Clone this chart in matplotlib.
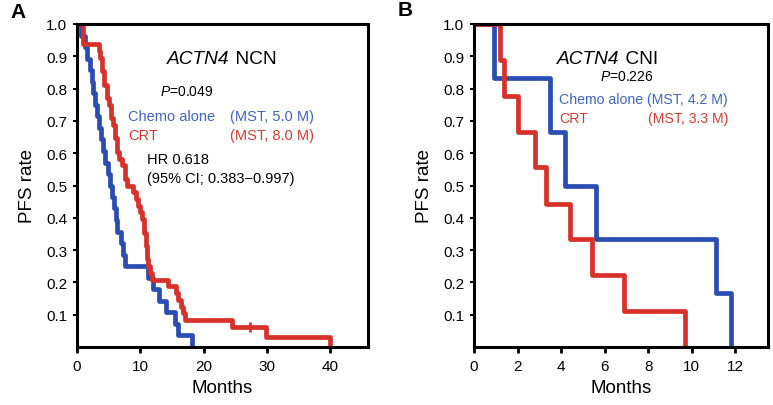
import matplotlib
matplotlib.use('Agg')
import matplotlib.pyplot as plt

plt.rcParams['font.family'] = ['Liberation Sans', 'DejaVu Sans']
plt.rcParams['mathtext.fontset'] = 'custom'
plt.rcParams['mathtext.rm'] = 'Liberation Sans'
plt.rcParams['mathtext.it'] = 'Liberation Sans:italic'

# Panel A: ACTN4 NCN, Kaplan-Meier steps (months, PFS rate)
a_chemo_t = [0, 0.6, 1.2, 1.6, 2.0, 2.3, 2.6, 2.9, 3.2, 3.5, 3.8, 4.1, 4.5, 4.9, 5.2,
             5.5, 5.8, 6.1, 6.4, 6.9, 7.2, 7.6, 11.3, 12.0, 13.0, 14.0, 15.5, 16.0, 18.1]
a_chemo_s = [1.0, 0.964, 0.929, 0.893, 0.857, 0.821, 0.786, 0.75, 0.714, 0.679, 0.643,
             0.607, 0.571, 0.536, 0.5, 0.464, 0.429, 0.393, 0.357, 0.321, 0.286, 0.25,
             0.214, 0.179, 0.143, 0.107, 0.071, 0.036, 0.0]
a_crt_t = [0, 1.0, 3.4, 3.7, 4.0, 4.3, 4.7, 5.0, 5.4, 5.7, 6.0, 6.3, 6.7, 7.1, 7.6, 7.9,
           8.9, 9.3, 9.7, 10.0, 10.3, 10.6, 10.9, 11.1, 11.3, 11.5, 11.8, 14.4, 15.6,
           16.0, 16.4, 16.8, 17.1, 24.5, 29.8, 40.0]
a_crt_s = [1.0, 0.938, 0.917, 0.896, 0.854, 0.812, 0.771, 0.75, 0.708, 0.688, 0.646,
           0.604, 0.583, 0.562, 0.521, 0.5, 0.479, 0.458, 0.438, 0.417, 0.396, 0.354,
           0.312, 0.271, 0.25, 0.229, 0.208, 0.188, 0.167, 0.146, 0.125, 0.104, 0.083,
           0.0625, 0.03, 0.0]
a_crt_censor_t = [27.3]
a_crt_censor_s = [0.0625]

# Panel B: ACTN4 CNI
b_chemo_t = [0, 0.9, 3.5, 4.2, 5.6, 11.1, 11.8]
b_chemo_s = [1.0, 0.833, 0.667, 0.5, 0.333, 0.167, 0.0]
b_crt_t = [0, 1.2, 1.4, 2.0, 2.8, 3.3, 4.4, 5.4, 6.9, 9.7]
b_crt_s = [1.0, 0.889, 0.778, 0.667, 0.556, 0.444, 0.333, 0.222, 0.111, 0.0]

y_ticks = [0.1, 0.2, 0.3, 0.4, 0.5, 0.6, 0.7, 0.8, 0.9, 1.0]
a_xticks = [0, 10, 20, 30, 40]
b_xticks = [0, 2, 4, 6, 8, 10, 12]

BLUE = '#2a4db4'
RED = '#d8312a'
BLUE_TXT = '#3f66c4'
RED_TXT = '#d63b31'

fig = plt.figure(figsize=(7.73, 4.06), dpi=100)
W, H = 773, 406


def make_axes(left, right, top=25, bottom=348):
    return fig.add_axes([left / W, 1 - bottom / H, (right - left) / W, (bottom - top) / H])


def style(ax, xticks, xmax):
    ax.set_xlim(0, xmax)
    ax.set_ylim(0, 1.0)
    ax.set_xticks(xticks)
    ax.set_yticks(y_ticks)
    ax.set_yticklabels(['%.1f' % v for v in y_ticks])
    for sp in ax.spines.values():
        sp.set_linewidth(2.2)
    ax.tick_params(axis='y', direction='out', length=3, width=1.5, labelsize=11, pad=4)
    ax.tick_params(axis='x', direction='out', length=4, width=2, labelsize=11, pad=5)
    ax.set_xlabel('Months', fontsize=13.5, labelpad=4)
    ax.set_ylabel('PFS rate', fontsize=13.5, labelpad=7)


def gene_title(ax, x, y, gene, rest):
    # italic gene name followed by upright suffix
    t = ax.text(x, y, gene, transform=ax.transAxes, ha='left', va='baseline',
                fontsize=13.8, style='italic')
    ax.annotate(' ' + rest, xy=(1, 0), xycoords=t, ha='left', va='bottom',
                fontsize=13.8)


# --- Panel A ---
ax1 = make_axes(77, 368)
ax1.step(a_chemo_t, a_chemo_s, where='post', color=BLUE, lw=3.4)
ax1.step(a_crt_t, a_crt_s, where='post', color=RED, lw=3.4)
ax1.plot(a_crt_censor_t, a_crt_censor_s, ls='none', marker='|', color=RED,
         markersize=7, markeredgewidth=2)
style(ax1, a_xticks, 46)

tA = ax1.transAxes
gene_title(ax1, 0.31, 0.878, 'ACTN4', 'NCN')
ax1.text(0.285, 0.792, r'$\mathit{P}$=0.049', transform=tA, ha='left', va='center', fontsize=10)
ax1.text(0.175, 0.715, 'Chemo alone', transform=tA, ha='left', va='center', fontsize=10.5, color=BLUE_TXT)
ax1.text(0.525, 0.715, '(MST, 5.0 M)', transform=tA, ha='left', va='center', fontsize=10.5, color=BLUE_TXT)
ax1.text(0.175, 0.656, 'CRT', transform=tA, ha='left', va='center', fontsize=10.5, color=RED_TXT)
ax1.text(0.525, 0.656, '(MST, 8.0 M)', transform=tA, ha='left', va='center', fontsize=10.5, color=RED_TXT)
ax1.text(0.24, 0.582, 'HR 0.618', transform=tA, ha='left', va='center', fontsize=10.5)
ax1.text(0.24, 0.523, '(95% CI; 0.383\u22120.997)', transform=tA, ha='left', va='center', fontsize=10.5)

# --- Panel B ---
ax2 = make_axes(474, 768)
ax2.step(b_chemo_t, b_chemo_s, where='post', color=BLUE, lw=3.4)
ax2.step(b_crt_t, b_crt_s, where='post', color=RED, lw=3.4)
style(ax2, b_xticks, 13.5)

tB = ax2.transAxes
gene_title(ax2, 0.283, 0.878, 'ACTN4', 'CNI')
ax2.text(0.52, 0.84, r'$\mathit{P}$=0.226', transform=tB, ha='center', va='center', fontsize=10)
ax2.text(0.29, 0.767, 'Chemo alone (MST, 4.2 M)', transform=tB, ha='left', va='center', fontsize=10.2, color=BLUE_TXT)
ax2.text(0.29, 0.71, 'CRT', transform=tB, ha='left', va='center', fontsize=10.2, color=RED_TXT)
ax2.text(0.865, 0.71, '(MST, 3.3 M)', transform=tB, ha='right', va='center', fontsize=10.2, color=RED_TXT)

fig.text(10 / W, 1 - 12 / H, 'A', fontsize=15, fontweight='bold', ha='left', va='center')
fig.text(398 / W, 1 - 10 / H, 'B', fontsize=15, fontweight='bold', ha='left', va='center')

fig.savefig('out.png', dpi=100)
